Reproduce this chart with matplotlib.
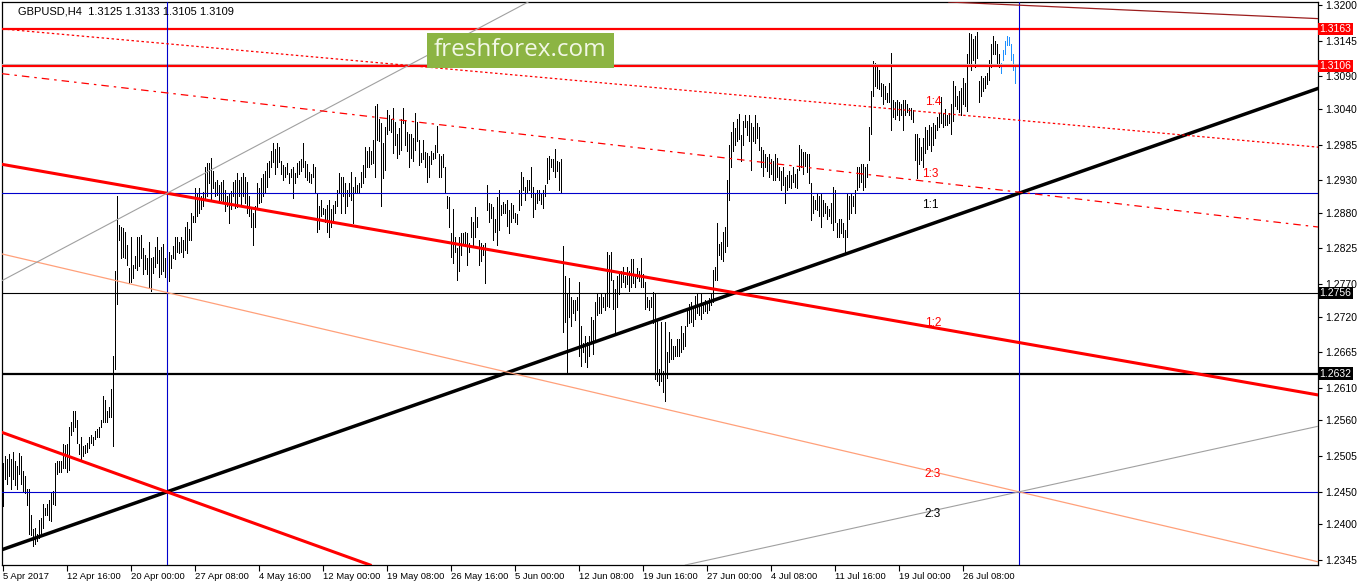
import numpy as np
import matplotlib
matplotlib.use('Agg')
import matplotlib.pyplot as plt
from matplotlib.patches import Rectangle

plt.rcParams['font.family'] = ['Liberation Sans', 'DejaVu Sans']

# GBPUSD H4 bars, high / low in pips (12500 -> 1.2500)
hi_pips = [
    12495, 12505, 12500, 12508, 12500, 12512, 12498, 12490, 12510, 12505, 12482, 12475,
    12455, 12455, 12415, 12392, 12394, 12385,
    12406, 12410, 12431, 12425, 12431, 12437, 12448, 12452,
    12494, 12497, 12497, 12497, 12524, 12522, 12524, 12550, 12558, 12575, 12574, 12560,
    12524, 12535, 12520, 12522, 12525, 12535, 12537, 12535, 12543, 12547, 12550,
    12560, 12598, 12592, 12575, 12580, 12609, 12660, 12790, 12905,
    12861, 12858, 12856, 12850, 12830, 12795, 12842, 12800, 12814, 12843, 12843, 12845,
    12825, 12815, 12810, 12835, 12811, 12812, 12827, 12843, 12822, 12827, 12832, 12811,
    12797, 12820, 12815, 12829, 12843, 12843, 12835, 12843, 12838, 12858, 12865, 12855,
    12880, 12875, 12918, 12910,
    12918, 12905, 12912, 12950, 12956, 12956, 12965, 12944, 12927, 12930, 12923, 12927,
    12930, 12915, 12905, 12910, 12913, 12927, 12930,
    12941, 12930, 12935, 12941, 12935, 12927, 12905, 12885, 12880, 12890, 12926, 12918,
    12934, 12940, 12944, 12956, 12960, 12975, 12987, 12978, 12987, 12981, 12960,
    12953, 12950, 12956, 12941, 12948, 12950, 12941, 12956, 12960, 12962, 12987, 12960,
    12955, 12942, 12940, 12955, 12950,
    12910, 12890, 12900, 12888, 12885, 12892, 12900, 12885, 12892, 12898, 12915, 12941,
    12935, 12935, 12925, 12915, 12925,
    12943, 12920, 12935, 12923, 12926, 12943, 12953, 12981, 12975, 12981, 12975, 12992,
    13045, 13047, 13025, 13018, 12987,
    13012, 13038, 13030, 13025, 13042, 13020, 13002, 13010, 13025, 13041, 13023, 13005,
    13002, 13002, 12995, 13033, 13020,
    12992, 12972, 12992, 12973, 12972, 12967, 12975, 12972, 12985, 13014, 12970, 12967,
    12970, 12950, 12905, 12904,
    12849, 12885, 12843, 12826, 12843, 12849, 12849, 12851, 12849, 12834, 12874, 12865,
    12889, 12874, 12838, 12834, 12830, 12834,
    12923, 12895, 12893, 12889, 12870, 12904, 12915, 12892, 12896, 12893, 12900, 12884,
    12895, 12892, 12880, 12878,
    12915, 12943, 12935, 12920, 12930, 12930, 12950, 12920, 12910, 12915, 12915, 12910,
    12915, 12922, 12965, 12967, 12962, 12963, 12978, 12960, 12958, 12962,
    12828, 12782, 12757, 12780, 12750, 12745, 12745, 12750, 12773, 12705, 12680, 12690,
    12681, 12690, 12720, 12715, 12742, 12755, 12750, 12755, 12750, 12757, 12820, 12815,
    12820, 12777, 12762, 12782, 12785, 12790, 12797, 12782, 12797, 12790, 12808, 12808,
    12785, 12795, 12790, 12811, 12785, 12774, 12750, 12745, 12750, 12758,
    12757, 12716, 12640, 12711, 12636, 12711, 12665, 12696, 12685, 12675, 12675, 12685,
    12685, 12705, 12695, 12705,
    12731, 12740, 12742, 12731, 12751, 12757, 12740, 12755, 12742, 12745, 12740, 12748,
    12755, 12792, 12797, 12864, 12832, 12835, 12850, 12858, 12930,
    12985, 13005, 13020, 13010, 13025, 13032, 13000,
    13022, 13030, 13022, 13030, 13018, 13012, 13030, 13018, 13012, 12981, 12976, 12970,
    12966, 12970, 12963, 12960, 12970, 12965,
    12950, 12945, 12950, 12935, 12938, 12945, 12938, 12950, 12940, 12948, 12984, 12978,
    12973, 12973, 12970, 12970,
    12926, 12905, 12900, 12910, 12905, 12910, 12900, 12895, 12890, 12885, 12895, 12920,
    12915, 12864, 12870, 12870, 12864, 12854, 12910, 12905,
    12910, 12905, 12915, 12950, 12950, 12955, 12955, 12950, 12955, 13012, 13068, 13114,
    13110, 13105, 13100,
    13080, 13078, 13075, 13065, 13080, 13126, 13053, 13050, 13053, 13050, 13047, 13053,
    13053, 13047, 13041, 13041, 13038,
    13002, 13002, 12995, 12981, 12995, 13012, 13007, 13015, 13012, 13018, 13015, 13027,
    13033, 13058, 13033, 13040, 13030, 13033,
    13048, 13083, 13075, 13060, 13068, 13072, 13088, 13080, 13125,
    13157, 13155, 13148, 13152, 13158, 13083, 13090, 13087, 13090, 13095, 13115, 13140,
    13152, 13145, 13140, 13125,
    13110, 13130, 13145, 13152, 13150, 13140, 13125, 13105,
]
lo_pips = [
    12428, 12470, 12462, 12475, 12455, 12470, 12460, 12455, 12478, 12462, 12450, 12448,
    12430, 12385, 12383, 12366, 12370, 12374,
    12379, 12383, 12394, 12414, 12414, 12406, 12405, 12431,
    12429, 12478, 12480, 12480, 12486, 12486, 12480, 12483, 12537, 12543, 12550, 12525,
    12509, 12498, 12505, 12510, 12512, 12517, 12525, 12522, 12532, 12535, 12535,
    12550, 12558, 12558, 12558, 12565, 12566, 12520, 12640, 12740,
    12838, 12811, 12812, 12810, 12800, 12772, 12773, 12780, 12795, 12792, 12798, 12810,
    12785, 12793, 12785, 12766, 12759, 12787, 12796, 12803, 12781, 12786, 12790, 12781,
    12772, 12775, 12795, 12810, 12808, 12820, 12818, 12820, 12812, 12823, 12818, 12838,
    12838, 12865, 12865, 12875,
    12880, 12885, 12890, 12900, 12905, 12926, 12900, 12918, 12905, 12908, 12900, 12900,
    12898, 12882, 12890, 12864, 12885, 12905, 12888,
    12889, 12905, 12890, 12905, 12895, 12880, 12875, 12858, 12830, 12858, 12885, 12895,
    12897, 12905, 12912, 12920, 12935, 12950, 12958, 12940, 12950, 12958, 12940,
    12930, 12935, 12940, 12926, 12935, 12903, 12925, 12935, 12940, 12945, 12950, 12935,
    12930, 12927, 12925, 12935, 12910,
    12850, 12855, 12875, 12878, 12865, 12850, 12843, 12858, 12866, 12880, 12890, 12910,
    12880, 12905, 12880, 12890, 12905,
    12900, 12864, 12910, 12910, 12910, 12920, 12926, 12935, 12950, 12950, 12955, 12956,
    12935, 12992, 12990, 12890, 12933,
    12946, 13002, 13008, 13005, 12972, 12985, 12965, 12970, 12976, 13018, 12985, 12975,
    12950, 12965, 12960, 12976, 12990,
    12953, 12958, 12962, 12950, 12927, 12935, 12955, 12962, 12965, 12973, 12935, 12935,
    12950, 12910, 12888, 12858,
    12812, 12803, 12820, 12777, 12790, 12815, 12834, 12828, 12800, 12820, 12843, 12830,
    12843, 12858, 12800, 12805, 12815, 12771,
    12884, 12865, 12872, 12838, 12850, 12831, 12853, 12876, 12880, 12880, 12860, 12849,
    12865, 12872, 12866, 12862,
    12884, 12892, 12915, 12900, 12910, 12915, 12904, 12874, 12885, 12895, 12900, 12893,
    12887, 12905, 12926, 12932, 12950, 12945, 12935, 12945, 12915, 12912,
    12696, 12711, 12635, 12720, 12705, 12725, 12715, 12730, 12660, 12644, 12665, 12650,
    12642, 12660, 12680, 12662, 12685, 12722, 12726, 12726, 12735, 12730, 12736, 12735,
    12777, 12731, 12696, 12735, 12755, 12765, 12773, 12765, 12770, 12760, 12766, 12772,
    12765, 12780, 12775, 12766, 12766, 12731, 12735, 12730, 12735, 12710,
    12624, 12620, 12615, 12620, 12604, 12590, 12625, 12650, 12655, 12655, 12660, 12660,
    12660, 12665, 12670, 12675,
    12705, 12710, 12712, 12705, 12716, 12725, 12722, 12716, 12725, 12728, 12725, 12730,
    12738, 12742, 12777, 12777, 12815, 12808, 12805, 12820, 12828,
    12900, 12950, 12975, 12985, 12990, 12993, 12960,
    12984, 13012, 12999, 12990, 12946, 12990, 12987, 12995, 12976, 12950, 12937, 12950,
    12945, 12935, 12940, 12930, 12930, 12935,
    12930, 12915, 12923, 12895, 12915, 12920, 12918, 12928, 12920, 12918, 12946, 12950,
    12940, 12952, 12942, 12925,
    12869, 12880, 12885, 12884, 12875, 12858, 12875, 12880, 12870, 12875, 12864, 12854,
    12865, 12843, 12843, 12848, 12843, 12816, 12843, 12870,
    12880, 12890, 12880, 12915, 12920, 12928, 12915, 12920, 12935, 12961, 13002, 13060,
    13075, 13072, 13070,
    13060, 13048, 13055, 13050, 13050, 13007, 13027, 13025, 13030, 13023, 13030, 13007,
    13030, 13035, 13030, 13025, 13020,
    12961, 12933, 12955, 12961, 12950, 12972, 12978, 12985, 12975, 12985, 12995, 13007,
    13012, 13018, 13012, 13015, 13015, 13018,
    13002, 13022, 13045, 13040, 13035, 13030, 13048, 13045, 13037,
    13110, 13100, 13115, 13105, 13119, 13050, 13060, 13068, 13072, 13078, 13085, 13105,
    13125, 13125, 13110, 13105,
    13095, 13115, 13125, 13138, 13138, 13115, 13100, 13080,
]
n_blue = 8  # the last few bars are drawn in blue

date_labels = ['5 Apr 2017', '12 Apr 16:00', '20 Apr 00:00', '27 Apr 08:00', '4 May 16:00',
               '12 May 00:00', '19 May 08:00', '26 May 16:00', '5 Jun 00:00', '12 Jun 08:00',
               '19 Jun 16:00', '27 Jun 00:00', '4 Jul 08:00', '11 Jul 16:00', '19 Jul 00:00',
               '26 Jul 08:00']
price_ticks = [1.3200, 1.3145, 1.3090, 1.3040, 1.2985, 1.2930, 1.2880, 1.2825, 1.2770,
               1.2720, 1.2665, 1.2610, 1.2560, 1.2505, 1.2450, 1.2400, 1.2345]

# horizontal levels: price, colour, width
h_levels = [(1.3163, 'red', 1.6), (1.3109, '#c0c0c0', 0.8), (1.3106, 'red', 1.6),
            (1.2910, '#0000cc', 0.8), (1.2756, 'black', 0.8), (1.2632, 'black', 1.6),
            (1.2450, '#0000cc', 0.8)]
boxed = [(1.3163, 'red'), (1.3106, 'red'), (1.2756, 'black'), (1.2632, 'black')]
v_bars = [82, 508]

# gann lines as two anchors (bar, price)
gann = [
    ((82, 1.2450), (508, 1.2910), 'black', 2.5, '-'),
    ((82, 1.2910), (508, 1.2680), 'red', 2.2, '-'),
    ((0, 1.2541), (82, 1.2450), 'red', 2.2, '-'),
    ((82, 1.2757), (508, 1.2450), '#ffa07a', 0.9, '-'),
    ((508, 1.2450), (657.5, 1.2551), '#a0a0a0', 0.8, '-'),
    ((82, 1.2910), (261, 1.3202), '#a0a0a0', 0.8, '-'),
    ((0, 1.3163), (657.5, 1.2981), 'red', 0.9, (0, (2, 2))),
    ((0, 1.3094), (657.5, 1.2858), 'red', 0.9, (0, (6, 4, 2, 4))),
    ((470, 1.3205), (657.5, 1.3179), '#9b1c1c', 0.9, '-'),
]
gann_text = [(465, 1.3051, '1:4', 'red'), (463.5, 1.2940, '1:3', 'red'),
             (463.5, 1.2892, '1:1', 'black'), (465, 1.2710, '1:2', 'red'),
             (465, 1.2477, '2:3', 'red'), (465, 1.2416, '2:3', 'black')]

W, H = 1358, 584
fig = plt.figure(figsize=(W / 100, H / 100), dpi=100)
ax = fig.add_axes([2 / W, 1 - 565 / H, 1316 / W, 563 / H])
ax.set_xlim(-0.5, 657.5)
ax.set_ylim(1.23373, 1.32046)

n = min(len(hi_pips), len(lo_pips))
hi = np.array(hi_pips[:n]) / 10000
lo = np.array(lo_pips[:n]) / 10000
x = np.arange(n)
k = n - n_blue
ax.vlines(x[:k], lo[:k], hi[:k], color='black', lw=0.7, antialiased=False, zorder=2)
ax.vlines(x[k:], lo[k:], hi[k:], color='#1e90ff', lw=0.7, antialiased=False, zorder=2)

for p, c, w in h_levels:
    ax.axhline(p, color=c, lw=w, zorder=3)
for b in v_bars:
    ax.axvline(b, color='#0000cc', lw=0.8, zorder=3)
for a, b, c, w, ls in gann:
    ax.axline(a, b, color=c, lw=w, ls=ls, zorder=3)
for bx, p, s, c in gann_text:
    ax.text(bx, p, s, color=c, fontsize=8.5, ha='center', va='center', zorder=4)

ax.yaxis.tick_right()
ax.set_yticks(price_ticks)
ax.set_yticklabels(['%.4f' % t for t in price_ticks])
ax.tick_params(axis='y', direction='out', length=3, width=0.8, pad=2, labelsize=7.5)
ax.set_xticks(np.arange(len(date_labels)) * 32)
ax.set_xticklabels(date_labels, ha='left')
ax.tick_params(axis='x', direction='out', length=4, width=0.8, pad=1, labelsize=6.8)
for s in ax.spines.values():
    s.set_linewidth(0.9)
    s.set_color('black')

for p, c in boxed:
    ax.text(1.0012, p, '%.4f' % p, transform=ax.get_yaxis_transform(), color='white',
            fontsize=7.5, ha='left', va='center', clip_on=False, zorder=10,
            bbox=dict(boxstyle='square,pad=0.12', fc=c, ec='none'))

fig.text(18 / W, 1 - 11 / H, 'GBPUSD,H4  1.3125 1.3133 1.3105 1.3109', fontsize=8,
         va='center', ha='left')

# freshforex watermark
fig.patches.append(Rectangle((427 / W, 1 - 68 / H), 187 / W, 35 / H,
                             transform=fig.transFigure, fc='#8cb443', ec='none', zorder=5))
fig.text(520 / W, 1 - 50 / H, 'freshforex.com', family='Open Sans', fontsize=17.5,
         color='#f2f7e6', ha='center', va='center', zorder=6)

fig.savefig('out.png', dpi=100)
